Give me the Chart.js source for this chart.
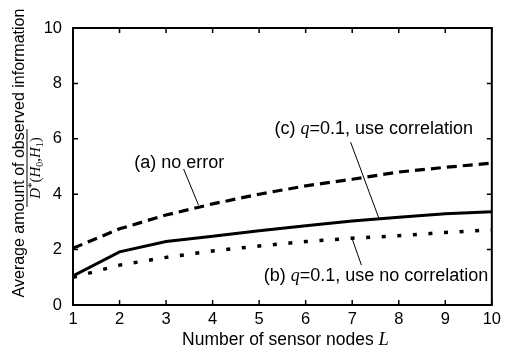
<!DOCTYPE html>
<html>
<head>
<meta charset="utf-8">
<script src="https://cdn.jsdelivr.net/npm/chart.js@4"></script>
<style>
  html, body { margin: 0; padding: 0; background: #fff; }
  #wrap { width: 506px; height: 361px; position: relative; }
</style>
</head>
<body>
<div id="wrap"><canvas id="chart1"></canvas></div>
<script>
// number of sensor nodes L
const L_NODES = [1, 2, 3, 4, 5, 6, 7, 8, 9, 10];
// (a) no error
const NO_ERROR = [2.05, 2.75, 3.25, 3.65, 4.0, 4.3, 4.54, 4.8, 4.97, 5.12];
// (c) q=0.1, use correlation
const WITH_CORR = [1.05, 1.92, 2.29, 2.48, 2.68, 2.86, 3.03, 3.17, 3.29, 3.37];
// (b) q=0.1, use no correlation
const NO_CORR = [1.0, 1.44, 1.72, 1.95, 2.13, 2.29, 2.41, 2.5, 2.62, 2.71];
const X_TICKS = [1, 2, 3, 4, 5, 6, 7, 8, 9, 10];
const Y_TICKS = [0, 2, 4, 6, 8, 10];

const SANS = '"Liberation Sans", Arial, sans-serif';
const SERIF = '"Liberation Serif", "Times New Roman", serif';

function pts(ys) {
  return L_NODES.map((l, i) => ({x: l, y: ys[i]}));
}

// draws a list of [text, font, dy] pieces starting at x
function drawPieces(ctx, pieces, x, y) {
  pieces.forEach(p => {
    ctx.font = p[1];
    ctx.fillText(p[0], x, y + (p[2] || 0));
    x += ctx.measureText(p[0]).width;
  });
}
function piecesWidth(ctx, pieces) {
  var w = 0;
  pieces.forEach(p => { ctx.font = p[1]; w += ctx.measureText(p[0]).width; });
  return w;
}

const F_ANN = '18px ' + SANS;
const F_ANN_I = 'italic 18px ' + SERIF;
const annotations = [
  {text: [['(a) no error', F_ANN]], at: [2.316, 5.13], line: [[3.377, 4.91], [3.696, 3.61]]},
  {text: [['(c) ', F_ANN], ['q', F_ANN_I], ['=0.1, use correlation', F_ANN]], at: [5.33, 6.35], line: [[6.965, 5.88], [7.58, 3.10]]},
  {text: [['(b) ', F_ANN], ['q', F_ANN_I], ['=0.1, use no correlation', F_ANN]], at: [5.097, 1.05], line: [[7.007, 2.35], [7.198, 1.44]]}
];

const framePlugin = {
  id: 'frame',
  afterDraw(chart) {
    const ctx = chart.ctx;
    const a = chart.chartArea;
    const xs = chart.scales.x, ys = chart.scales.y;
    ctx.save();
    // box
    ctx.strokeStyle = '#000';
    ctx.lineWidth = 2;
    ctx.strokeRect(a.left, a.top, a.right - a.left, a.bottom - a.top);
    // inward ticks
    ctx.lineWidth = 1.5;
    ctx.beginPath();
    X_TICKS.forEach(v => {
      const px = xs.getPixelForValue(v);
      ctx.moveTo(px, a.bottom); ctx.lineTo(px, a.bottom - 5);
      ctx.moveTo(px, a.top); ctx.lineTo(px, a.top + 5);
    });
    Y_TICKS.forEach(v => {
      const py = ys.getPixelForValue(v);
      ctx.moveTo(a.left, py); ctx.lineTo(a.left + 5, py);
      ctx.moveTo(a.right, py); ctx.lineTo(a.right - 5, py);
    });
    ctx.stroke();

    // annotations
    ctx.fillStyle = '#000';
    ctx.textBaseline = 'middle';
    ctx.textAlign = 'left';
    ctx.lineWidth = 1;
    annotations.forEach(an => {
      drawPieces(ctx, an.text, xs.getPixelForValue(an.at[0]), ys.getPixelForValue(an.at[1]));
      ctx.beginPath();
      ctx.moveTo(xs.getPixelForValue(an.line[0][0]), ys.getPixelForValue(an.line[0][1]));
      ctx.lineTo(xs.getPixelForValue(an.line[1][0]), ys.getPixelForValue(an.line[1][1]));
      ctx.stroke();
    });

    // x axis title
    ctx.textBaseline = 'alphabetic';
    const xt = [['Number of sensor nodes ', '17.5px ' + SANS], ['L', 'italic 18.5px ' + SERIF]];
    const xw = piecesWidth(ctx, xt);
    drawPieces(ctx, xt, (a.left + a.right) / 2 + 3 - xw / 2, 345);

    // y axis title as a fraction
    ctx.save();
    ctx.translate(24, 153);
    ctx.rotate(-Math.PI / 2);
    ctx.textAlign = 'center';
    ctx.font = '16px ' + SANS;
    ctx.fillText('Average amount of observed information', 0, 0);
    ctx.restore();

    ctx.save();
    ctx.translate(27, 168);
    ctx.rotate(-Math.PI / 2);
    ctx.beginPath();
    ctx.moveTo(-39, 0); ctx.lineTo(39, 0);
    ctx.stroke();
    const den = [
      ['D', 'italic 15px ' + SERIF], ['*', '11px ' + SERIF, -5],
      ['(', '15px ' + SERIF], ['H', 'italic 15px ' + SERIF], ['0', '10px ' + SERIF, 3],
      [',', '15px ' + SERIF], ['H', 'italic 15px ' + SERIF], ['1', '10px ' + SERIF, 3],
      [')', '15px ' + SERIF]
    ];
    ctx.textAlign = 'left';
    const dw = piecesWidth(ctx, den);
    drawPieces(ctx, den, -dw / 2, 12.5);
    ctx.restore();

    ctx.restore();
  }
};

new Chart(document.getElementById('chart1'), {
  type: 'line',
  data: {
    datasets: [
      {label: 'no error', data: pts(NO_ERROR), borderColor: '#000', borderWidth: 3.2, borderDash: [10, 6], borderCapStyle: 'butt'},
      {label: 'use correlation', data: pts(WITH_CORR), borderColor: '#000', borderWidth: 3},
      {label: 'use no correlation', data: pts(NO_CORR), borderColor: '#000', borderWidth: 3.5, borderDash: [4, 11.6], borderCapStyle: 'butt'}
    ]
  },
  options: {
    responsive: true,
    maintainAspectRatio: false,
    animation: false,
    layout: {padding: {top: 28, right: 9, left: 0, bottom: 0}},
    elements: {point: {radius: 0}, line: {tension: 0}},
    plugins: {legend: {display: false}, tooltip: {enabled: false}},
    scales: {
      x: {
        type: 'linear', min: 1, max: 10,
        afterBuildTicks: s => { s.ticks = X_TICKS.map(v => ({value: v})); },
        afterFit: s => { s.height = 56; },
        grid: {display: false, drawTicks: false},
        border: {display: false},
        ticks: {color: '#000', padding: 5, maxRotation: 0, font: {family: SANS, size: 16.5}}
      },
      y: {
        min: 0, max: 10,
        afterBuildTicks: s => { s.ticks = Y_TICKS.map(v => ({value: v})); },
        afterFit: s => { s.width = 73; },
        grid: {display: false, drawTicks: false},
        border: {display: false},
        ticks: {color: '#000', padding: 11, font: {family: SANS, size: 16.5}}
      }
    }
  },
  plugins: [framePlugin]
});
</script>
</body>
</html>
